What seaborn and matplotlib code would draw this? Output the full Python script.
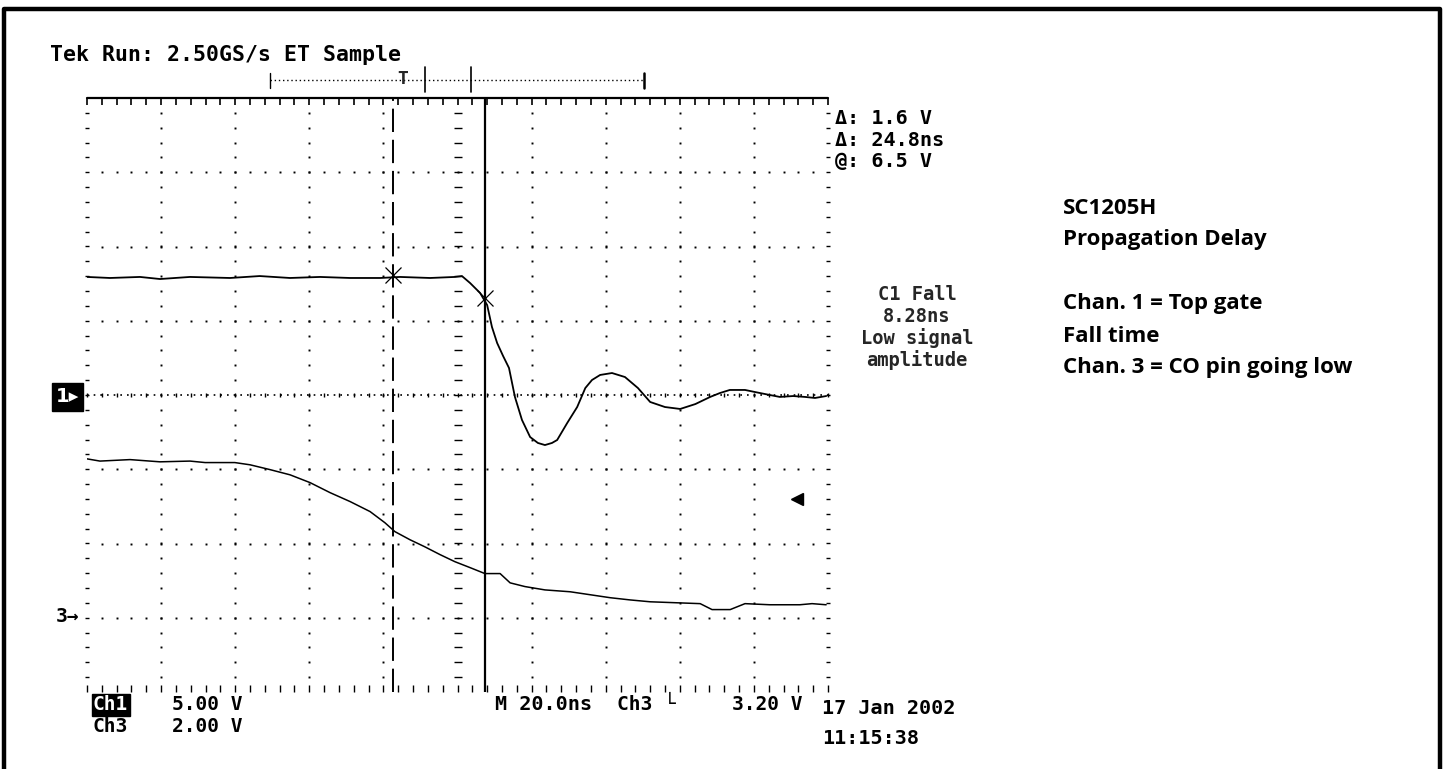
import matplotlib
matplotlib.use("Agg")
import matplotlib.pyplot as plt
from matplotlib.lines import Line2D
import numpy as np
import pandas as pd
import seaborn as sns

W, H = 1443, 769

# Ch1 (top gate) : time in ns, volts
ch1_t = [-100.0, -93.8, -85.7, -80.3, -72.2, -61.4, -53.4, -45.2, -37.1, -29.0,
         -20.9, -15.5, -7.4, -0.7, 1.2, 3.4, 6.1, 8.0, 9.3, 10.7, 12.3, 13.9,
         15.5, 17.4, 19.6, 21.7, 23.6, 25.5, 26.9, 29.6, 32.3, 34.5, 36.3, 38.5,
         41.7, 45.2, 48.7, 52.0, 56.0, 60.1, 64.2, 68.2, 70.8, 73.5, 77.6, 80.3,
         84.3, 87.0, 90.6, 93.8, 96.5, 99.5]
ch1_v = [7.95, 7.88, 7.95, 7.81, 7.95, 7.88, 8.01, 7.88, 7.95, 7.88,
         7.88, 7.95, 7.88, 7.95, 8.01, 7.54, 6.87, 6.06, 4.58, 3.50, 2.63, 1.82,
         -0.13, -1.68, -2.83, -3.23, -3.37, -3.23, -3.03, -1.89, -0.81, 0.47, 1.01, 1.35,
         1.48, 1.21, 0.47, -0.47, -0.81, -0.94, -0.61, -0.13, 0.13, 0.34, 0.34, 0.20,
         0.00, -0.13, -0.07, -0.13, -0.20, -0.07]

# Ch3 (CO pin) : time in ns, volts
ch3_t = [-100.0, -96.5, -88.4, -80.3, -72.2, -68.1, -60.1, -56.0, -50.6, -45.2,
         -39.8, -34.4, -29.0, -23.6, -19.6, -16.9, -12.8, -8.8, -4.7, -0.7,
         3.4, 7.4, 11.5, 14.2, 18.2, 23.6, 30.4, 35.8, 41.2, 46.6,
         52.0, 60.1, 65.5, 68.7, 73.6, 77.6, 84.3, 92.4, 95.7, 99.5]
ch3_v = [4.28, 4.22, 4.26, 4.20, 4.22, 4.18, 4.18, 4.12, 3.99, 3.85,
         3.64, 3.37, 3.13, 2.86, 2.56, 2.32, 2.10, 1.91, 1.70, 1.51,
         1.35, 1.19, 1.19, 0.94, 0.84, 0.75, 0.70, 0.62, 0.54, 0.48,
         0.43, 0.40, 0.38, 0.22, 0.22, 0.38, 0.35, 0.35, 0.38, 0.35]

ch1_vdiv = 5.0
ch3_vdiv = 2.0
ch3_ground = -3.0          # ground marker, divisions from centre

cursor_t = [-17.4, 7.4]    # dashed / solid time cursors
cursor_v = [8.1, 6.5]      # ch1 level at the cursors
trig_level = 3.2           # ch3 trigger level, volts

right_notes = ["SC1205H", "Propagation Delay", "", "Chan. 1 = Top gate",
               "Fall time", "Chan. 3 = CO pin going low"]

sns.set_theme(style="white")
plt.rcParams['font.family'] = ['DejaVu Sans']

fig = plt.figure(figsize=(W / 100, H / 100), dpi=100)
ax = fig.add_axes([87 / W, 1 - 692 / H, 741 / W, 594 / H])
ax.set_xlim(-100, 100)
ax.set_ylim(-4, 4)
ax.axis("off")


def fx(px):
    return px / W


def fy(py):
    return 1 - py / H


k = dict(color="black", ls="none", clip_on=False)

# graticule
minor_x = np.arange(-100, 100.01, 4)
minor_y = np.arange(-4, 4.01, 0.2)
for gx in [-80, -60, -40, -20, 20, 40, 60, 80]:
    ax.plot([gx] * len(minor_y[1:-1]), minor_y[1:-1], marker="s", ms=1.4, mew=0, **k)
for gy in [-3, -2, -1, 1, 2, 3]:
    ax.plot(minor_x[1:-1], [gy] * len(minor_x[1:-1]), marker="s", ms=1.4, mew=0, **k)
ax.plot([0] * len(minor_y[1:-1]), minor_y[1:-1], marker="_", ms=6, mew=1.0, **k)
ax.plot([-100, 100], [0, 0], color="black", ls=(0, (1, 3)), lw=1.2)
ax.plot(minor_x, [0] * len(minor_x), marker="|", ms=3, mew=1.0, **k)
ax.plot([-100] * len(minor_y[1:-1]), minor_y[1:-1], marker="_", ms=3, mew=1.0, **k)
ax.plot([100] * len(minor_y[1:-1]), minor_y[1:-1], marker="_", ms=3, mew=1.0, **k)
ax.plot([-100, 100], [4, 4], color="black", lw=1.6, clip_on=False)
ax.plot(minor_x, [4] * len(minor_x), marker=3, ms=5, mew=1.2, **k)
ax.plot(minor_x, [-4] * len(minor_x), marker=2, ms=5, mew=1.0, **k)

# time cursors
ax.plot([cursor_t[0]] * 2, [-4, 4], color="black", lw=1.4, ls=(0, (12, 4)))
ax.plot([cursor_t[1]] * 2, [-4, 4], color="black", lw=1.6)

# traces
df1 = pd.DataFrame({"t": ch1_t, "div": np.array(ch1_v) / ch1_vdiv})
df3 = pd.DataFrame({"t": ch3_t, "div": np.array(ch3_v) / ch3_vdiv + ch3_ground})
sns.lineplot(data=df1, x="t", y="div", color="black", lw=1.3, estimator=None,
             sort=False, ax=ax)
sns.lineplot(data=df3, x="t", y="div", color="black", lw=1.1, estimator=None,
             sort=False, ax=ax)
ax.plot(cursor_t, np.array(cursor_v) / ch1_vdiv, marker="x", ms=11, mew=0.9, **k)
ax.plot([91.6], [trig_level / ch3_vdiv + ch3_ground], marker="<", ms=8, **k)

# record bar above graticule
ax.plot([-50.6, 50.3], [4.24, 4.24], color="black", lw=1, ls=(0, (1, 2)), clip_on=False)
ax.plot([-50.6, -50.6], [4.14, 4.34], color="black", lw=1, clip_on=False)
ax.plot([50.3, 50.3], [4.14, 4.34], color="black", lw=1.8, clip_on=False)
for m in [-8.8, 3.6]:
    ax.plot([m, m], [4.08, 4.42], color="black", lw=1.2, clip_on=False)
ax.text(-14.7, 4.25, "T", ha="center", va="center", fontsize=13,
        fontweight="bold", family="DejaVu Sans Mono")

mono = dict(family="DejaVu Sans Mono", color="black", va="center", ha="left",
            fontweight="bold")
fig.text(fx(50), fy(55), "Tek Run: 2.50GS/s ET Sample", fontsize=15.5, **mono)
fig.text(fx(835), fy(118), "Δ: 1.6 V", fontsize=14.5, **mono)
fig.text(fx(835), fy(140), "Δ: 24.8ns", fontsize=14.5, **mono)
fig.text(fx(835), fy(162), "@: 6.5 V", fontsize=14.5, **mono)
for i, s in enumerate(["C1 Fall", "8.28ns", "Low signal", "amplitude"]):
    fig.text(fx(917), fy(295 + 21.5 * i), s, fontsize=13.5, family="DejaVu Sans Mono",
             fontweight="bold", ha="center", va="center")

fig.text(fx(56), fy(397), "1▸", fontsize=14, color="white", fontweight="bold",
         family="DejaVu Sans", va="center", ha="left",
         bbox=dict(facecolor="black", edgecolor="black", pad=3))
fig.text(fx(56), fy(616), "3→", fontsize=14, **mono)

fig.text(fx(93), fy(705), "Ch1", fontsize=14, color="white", family="DejaVu Sans Mono",
         fontweight="bold", va="center", ha="left",
         bbox=dict(facecolor="black", edgecolor="black", pad=1))
fig.text(fx(172), fy(705), "5.00 V", fontsize=14, **mono)
fig.text(fx(92), fy(726), "Ch3", fontsize=14, **mono)
fig.text(fx(172), fy(726), "2.00 V", fontsize=14, **mono)
fig.text(fx(495), fy(705), "M 20.0ns", fontsize=14.5, **mono)
fig.text(fx(617), fy(705), "Ch3 └", fontsize=14, **mono)
fig.text(fx(732), fy(705), "3.20 V", fontsize=14, **mono)
fig.text(fx(822), fy(709), "17 Jan 2002", fontsize=14.5, **mono)
fig.text(fx(822), fy(738), "11:15:38", fontsize=14.5, **mono)

for i, s in enumerate(right_notes):
    fig.text(fx(1063), fy(208 + 32 * i), s, fontsize=16, family="Open Sans",
             fontweight="bold", color="black", va="center", ha="left")

# outer frame (left, top, right)
fig.add_artist(Line2D([fx(4), fx(4), fx(1440), fx(1440)],
                      [0, fy(9), fy(9), 0], color="black", lw=3.2))

fig.savefig("out.png", dpi=100)
